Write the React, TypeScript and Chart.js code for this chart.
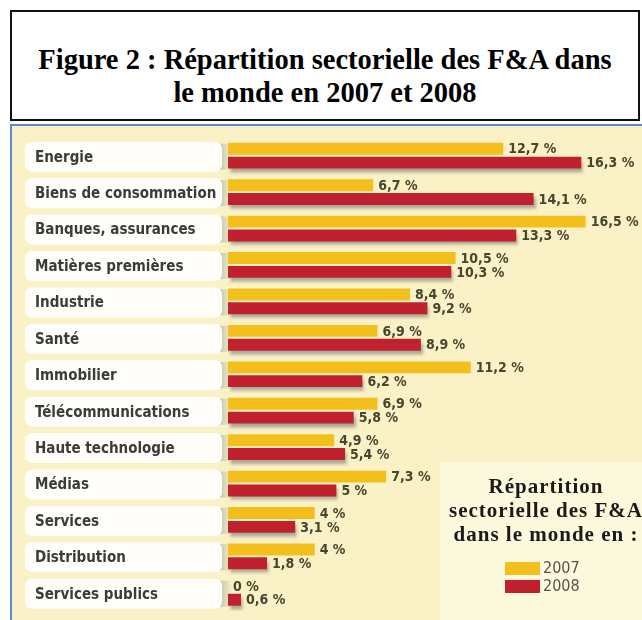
import React, { useEffect, useRef } from "react";
import { Chart, registerables } from "chart.js";

Chart.register(...registerables);

const categories = [
  "Energie",
  "Biens de consommation",
  "Banques, assurances",
  "Matières premières",
  "Industrie",
  "Santé",
  "Immobilier",
  "Télécommunications",
  "Haute technologie",
  "Médias",
  "Services",
  "Distribution",
  "Services publics",
];
const values2007 = [12.7, 6.7, 16.5, 10.5, 8.4, 6.9, 11.2, 6.9, 4.9, 7.3, 4, 4, 0];
const values2008 = [16.3, 14.1, 13.3, 10.3, 9.2, 8.9, 6.2, 5.8, 5.4, 5, 3.1, 1.8, 0.6];
const seriesNames = ["2007", "2008"];
const titleLines = ["Figure 2 : Répartition sectorielle des F&A dans", "le monde en 2007 et 2008"];
const legendTitleLines = ["Répartition", "sectorielle des F&A", "dans le monde en :"];
const xMax = 19.1;

const YELLOW = "#f3bf1d";
const RED = "#c1202f";
const CREAM = "#fbf1c7";
const LEGEND_BG = "#fdf9dc";
const LABEL_FONT = "'DejaVu Sans Condensed', 'DejaVu Sans', sans-serif";

function fmt(v: number): string {
  return String(v).replace(".", ",") + " %";
}

const panelPlugin = {
  id: "panelDeco",
  beforeDraw(chart: any) {
    const ctx = chart.ctx;
    const y = chart.scales.y;
    ctx.save();
    categories.forEach((_c, i) => {
      const cy = y.getPixelForValue(i) + 1;
      const x0 = 13;
      const x1 = 210;
      const top = cy - 15;
      const h = 30;
      const g = ctx.createLinearGradient(x1 - 4, 0, x1 + 10, 0);
      g.addColorStop(0, "rgba(140,150,150,0.55)");
      g.addColorStop(1, "rgba(140,150,150,0)");
      ctx.fillStyle = g;
      ctx.fillRect(x1 - 4, top + 2, 14, h - 4);
      ctx.fillStyle = "#fffefa";
      ctx.beginPath();
      ctx.roundRect(x0, top, x1 - x0, h, 7);
      ctx.fill();
    });
    ctx.restore();
  },
  beforeDatasetDraw(chart: any, args: any) {
    if (args.index === 1) {
      const ctx = chart.ctx;
      ctx.save();
      ctx.shadowColor = "rgba(90,100,100,0.5)";
      ctx.shadowOffsetY = 4;
      ctx.shadowOffsetX = 2;
      ctx.shadowBlur = 3;
    }
  },
  afterDatasetDraw(chart: any, args: any) {
    if (args.index === 1) chart.ctx.restore();
  },
  afterDatasetsDraw(chart: any) {
    const ctx = chart.ctx;
    ctx.save();
    ctx.font = `bold 14px ${LABEL_FONT}`;
    ctx.fillStyle = "#46462e";
    ctx.textBaseline = "middle";
    ctx.textAlign = "left";
    chart.data.datasets.forEach((ds: any, di: number) => {
      const meta = chart.getDatasetMeta(di);
      meta.data.forEach((el: any, i: number) => {
        const v = ds.data[i];
        ctx.fillText(fmt(v), el.x + 5, el.y + 1);
      });
    });
    ctx.restore();
  },
  afterDraw(chart: any) {
    const ctx = chart.ctx;
    ctx.save();
    ctx.fillStyle = LEGEND_BG;
    ctx.fillRect(428, 336, 202, 158);
    ctx.fillStyle = "#1a1a1a";
    ctx.font = "bold 21px 'Liberation Serif', 'Times New Roman', serif";
    (ctx as any).letterSpacing = "1px";
    ctx.textAlign = "center";
    ctx.textBaseline = "middle";
    legendTitleLines.forEach((t, i) => {
      ctx.fillText(t, 534, 362 + i * 24);
    });
    (ctx as any).letterSpacing = "0px";
    chart.data.datasets.forEach((ds: any, i: number) => {
      const sy = 436 + i * 18;
      ctx.fillStyle = ds.backgroundColor;
      ctx.fillRect(493, sy, 35, 13);
      ctx.fillStyle = "#555555";
      ctx.font = "16px 'Liberation Sans Narrow', 'DejaVu Sans Condensed', sans-serif";
      ctx.textAlign = "left";
      ctx.fillText(ds.label, 531, sy + 7);
    });
    ctx.restore();
  },
};

export default function App() {
  const canvasRef = useRef<HTMLCanvasElement | null>(null);

  useEffect(() => {
    if (!canvasRef.current) return;
    const chart = new Chart(canvasRef.current, {
      type: "bar",
      data: {
        labels: categories,
        datasets: [
          {
            label: seriesNames[0],
            data: values2007,
            backgroundColor: YELLOW,
            categoryPercentage: 0.76,
            barPercentage: 0.86,
          },
          {
            label: seriesNames[1],
            data: values2008,
            backgroundColor: RED,
            categoryPercentage: 0.76,
            barPercentage: 0.86,
          },
        ],
      },
      options: {
        indexAxis: "y",
        animation: false,
        responsive: false,
        maintainAspectRatio: false,
        layout: { padding: { left: 23, top: 11.5, bottom: 1.5, right: 0 } },
        plugins: {
          legend: { display: false },
          tooltip: { enabled: false },
          title: { display: false },
        },
        scales: {
          x: {
            type: "linear",
            min: 0,
            max: xMax,
            display: false,
          },
          y: {
            type: "category",
            grid: { display: false, drawTicks: false },
            border: { display: false },
            afterFit(scale: any) {
              scale.width = 193;
            },
            ticks: {
              crossAlign: "far",
              padding: 0,
              labelOffset: 2,
              color: "#3b3b3b",
              font: { family: LABEL_FONT, size: 15, weight: "bold" },
            },
          },
        },
      },
      plugins: [panelPlugin],
    } as any);
    return () => chart.destroy();
  }, []);

  return (
    <div
      style={{
        position: "absolute",
        left: 0,
        top: 0,
        width: 642,
        height: 620,
        background: "#ffffff",
        overflow: "hidden",
      }}
    >
      <div
        style={{
          position: "absolute",
          left: 10,
          top: 10,
          width: 630,
          height: 111,
          border: "2px solid #111",
          boxSizing: "border-box",
          fontFamily: "'Liberation Serif', 'Times New Roman', serif",
          fontWeight: "bold",
          fontSize: 28.5,
          lineHeight: "33px",
          textAlign: "center",
          color: "#000",
        }}
      >
        <div style={{ position: "absolute", left: 0, right: 0, top: 31 }}>
          {titleLines.map((t) => (
            <div key={t} style={{ whiteSpace: "nowrap" }}>{t}</div>
          ))}
        </div>
      </div>
      <div
        style={{
          position: "absolute",
          left: 10,
          top: 124,
          width: 632,
          height: 496,
          background: CREAM,
          borderLeft: "2px solid #5a8ad2",
          borderTop: "2px solid #5a8ad2",
          boxSizing: "border-box",
        }}
      />
      <canvas
        ref={canvasRef}
        width={630}
        height={494}
        style={{ position: "absolute", left: 12, top: 126, width: 630, height: 494 }}
      />
    </div>
  );
}
